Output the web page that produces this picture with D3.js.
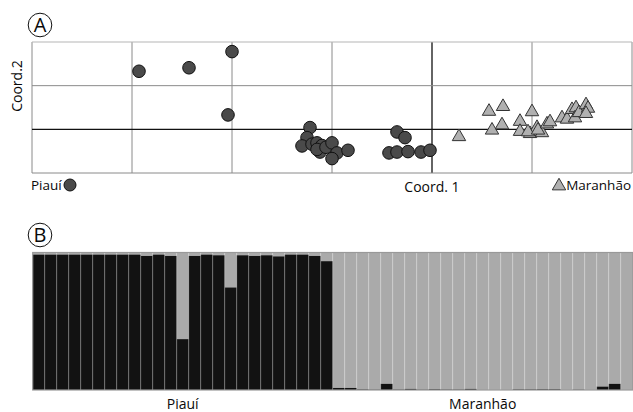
<!DOCTYPE html>
<html>
<head>
<meta charset="utf-8">
<script src="https://cdn.jsdelivr.net/npm/d3@7"></script>
<style>
  body { margin: 0; background: #fff; }
  text { font-family: "Open Sans", "DejaVu Sans", sans-serif; fill: #0a0a0a; }
</style>
</head>
<body>
<div id="chart"></div>
<script>
// PCoA coordinates (Coord. 1, Coord. 2)
var piauiX = [-2.93, -2.43, -2.00, -2.04, -1.22, -1.25, -1.30, -1.20, -1.15, -1.10, -1.12, -1.15, -1.06,
              -1.00, -0.95, -1.00, -0.84, -0.35, -0.27, -0.43, -0.35, -0.24, -0.11, -0.02];
var piauiY = [1.33, 1.41, 1.78, 0.33, 0.04, -0.19, -0.38, -0.34, -0.31, -0.37, -0.52, -0.46, -0.41,
              -0.31, -0.54, -0.67, -0.48, -0.06, -0.19, -0.54, -0.52, -0.51, -0.52, -0.48];
var maranhaoX = [0.27, 0.57, 0.71, 0.60, 0.70, 0.88, 0.88, 1.00, 0.98, 1.05, 1.10, 0.96, 1.06,
                 1.15, 1.18, 1.30, 1.35, 1.40, 1.44, 1.43, 1.47, 1.54, 1.56, 1.54];
var maranhaoY = [-0.17, 0.41, 0.52, -0.02, 0.10, 0.18, -0.05, 0.40, -0.10, 0.04, -0.08, -0.06, -0.02,
                 0.12, 0.17, 0.26, 0.23, 0.45, 0.49, 0.26, 0.38, 0.56, 0.48, 0.36];

// grid ticks
var xTicks = [-4, -3, -2, -1, 0, 1, 2];
var yTicks = [-1, 0, 1, 2];

// STRUCTURE membership (black cluster share), one bar per individual
var piauiQ = [0.985, 0.985, 0.985, 0.985, 0.985, 0.985, 0.985, 0.985, 0.985, 0.975, 0.985, 0.975, 0.37,
              0.975, 0.985, 0.98, 0.746, 0.98, 0.975, 0.98, 0.972, 0.985, 0.985, 0.975, 0.937];
var maranhaoQ = [0.015, 0.015, 0.005, 0.003, 0.045, 0.004, 0.008, 0.003, 0.006, 0.004, 0.004, 0.008, 0,
                 0, 0, 0.005, 0.005, 0.006, 0.006, 0, 0.003, 0, 0.025, 0.045, 0];

var W = 633, H = 412;

var svg = d3.select("#chart").append("svg")
    .attr("width", W)
    .attr("height", H);

// ---------- Panel A ----------
var x = d3.scaleLinear().domain([-4, 2]).range([32, 632]);
var y = d3.scaleLinear().domain([-1, 2]).range([173, 42]);

var gA = svg.append("g");

gA.selectAll("line.vx")
    .data(xTicks)
    .enter()
    .append("line")
    .attr("x1", function (d) { return x(d); })
    .attr("x2", function (d) { return x(d); })
    .attr("y1", y(-1))
    .attr("y2", y(2))
    .style("stroke", function (d) { return d === 0 ? "#111" : "#8a8a8a"; })
    .style("stroke-width", function (d) { return d === 0 ? 1.3 : 1; });

gA.selectAll("line.hy")
    .data(yTicks)
    .enter()
    .append("line")
    .attr("x1", x(-4))
    .attr("x2", x(2))
    .attr("y1", function (d) { return y(d); })
    .attr("y2", function (d) { return y(d); })
    .style("stroke", function (d) { return d === 0 ? "#111" : (d === 2 ? "#b5b5b5" : "#8a8a8a"); })
    .style("stroke-width", function (d) { return d === 0 ? 1.3 : 1; });

var piaui = piauiX.map(function (v, i) { return [v, piauiY[i]]; });
var maranhao = maranhaoX.map(function (v, i) { return [v, maranhaoY[i]]; });

gA.selectAll("circle.p")
    .data(piaui)
    .enter()
    .append("circle")
    .attr("cx", function (d) { return x(d[0]); })
    .attr("cy", function (d) { return y(d[1]); })
    .attr("r", 6.3)
    .style("fill", "#4a4a4a")
    .style("stroke", "#111")
    .style("stroke-width", 1);

var tri = d3.symbol().type(d3.symbolTriangle).size(78);

gA.selectAll("path.m")
    .data(maranhao)
    .enter()
    .append("path")
    .attr("d", tri)
    .attr("transform", function (d) { return "translate(" + x(d[0]) + "," + y(d[1]) + ")"; })
    .style("fill", "#b0b0b0")
    .style("stroke", "#333")
    .style("stroke-width", 1);

// axis titles
gA.append("text")
    .attr("transform", "translate(22,86) rotate(-90)")
    .attr("text-anchor", "middle")
    .style("font-size", "14px")
    .text("Coord.2");

gA.append("text")
    .attr("x", x(0))
    .attr("y", 192)
    .attr("text-anchor", "middle")
    .style("font-size", "14px")
    .text("Coord. 1");

// legend
gA.append("text")
    .attr("x", 31)
    .attr("y", 190)
    .style("font-size", "13.5px")
    .text("Piauí");
gA.append("circle")
    .attr("cx", 70)
    .attr("cy", 185)
    .attr("r", 6)
    .style("fill", "#4a4a4a")
    .style("stroke", "#111");

gA.append("path")
    .attr("d", tri)
    .attr("transform", "translate(559,186)")
    .style("fill", "#b0b0b0")
    .style("stroke", "#333");
gA.append("text")
    .attr("x", 631)
    .attr("y", 190)
    .attr("text-anchor", "end")
    .style("font-size", "13.5px")
    .text("Maranhão");

// ---------- Panel B ----------
var q = piauiQ.concat(maranhaoQ);
var bx = d3.scaleBand().domain(d3.range(q.length)).range([32.7, 632.7]).padding(0);
var by = d3.scaleLinear().domain([0, 1]).range([390, 252.5]);

var gB = svg.append("g");

gB.selectAll("rect.gray")
    .data(q)
    .enter()
    .append("rect")
    .attr("x", function (d, i) { return bx(i); })
    .attr("width", bx.bandwidth())
    .attr("y", by(1))
    .attr("height", function (d) { return by(d) - by(1); })
    .style("fill", "#aaaaaa");

gB.selectAll("rect.black")
    .data(q)
    .enter()
    .append("rect")
    .attr("x", function (d, i) { return bx(i); })
    .attr("width", bx.bandwidth())
    .attr("y", function (d) { return by(d); })
    .attr("height", function (d) { return by(0) - by(d); })
    .style("fill", "#121212");

// separators between individuals
gB.selectAll("line.sep")
    .data(d3.range(1, q.length))
    .enter()
    .append("line")
    .attr("x1", function (i) { return bx(i); })
    .attr("x2", function (i) { return bx(i); })
    .attr("y1", by(1))
    .attr("y2", by(0))
    .style("stroke", "#fff")
    .style("stroke-opacity", 0.28)
    .style("stroke-width", 1);

gB.append("rect")
    .attr("x", bx(0))
    .attr("y", by(1))
    .attr("width", bx.range()[1] - bx(0))
    .attr("height", by(0) - by(1))
    .style("fill", "none")
    .style("stroke", "#999")
    .style("stroke-width", 1.2);

gB.append("text")
    .attr("x", (bx(0) + bx(25)) / 2)
    .attr("y", 409)
    .attr("text-anchor", "middle")
    .style("font-size", "14px")
    .text("Piauí");

gB.append("text")
    .attr("x", (bx(25) + bx.range()[1]) / 2)
    .attr("y", 409)
    .attr("text-anchor", "middle")
    .style("font-size", "14px")
    .text("Maranhão");

// ---------- panel letters ----------
var letters = [["A", 40, 25], ["B", 40, 235]];
var lg = svg.selectAll("g.letter")
    .data(letters)
    .enter()
    .append("g")
    .attr("transform", function (d) { return "translate(" + d[1] + "," + d[2] + ")"; });
lg.append("circle")
    .attr("r", 11.8)
    .style("fill", "none")
    .style("stroke", "#111")
    .style("stroke-width", 1);
lg.append("text")
    .attr("text-anchor", "middle")
    .attr("dy", "0.36em")
    .style("font-size", "20px")
    .text(function (d) { return d[0]; });
</script>
</body>
</html>
